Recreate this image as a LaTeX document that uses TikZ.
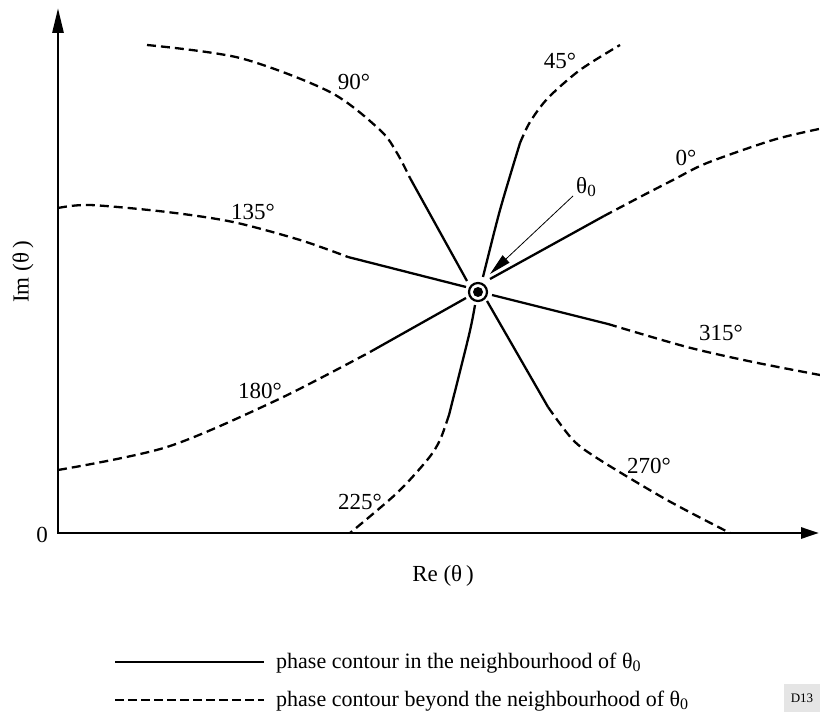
\documentclass[tikz,border=0pt]{standalone}
\usepackage{fontspec}
\setmainfont{Liberation Serif}
\usetikzlibrary{arrows.meta}
\begin{document}
\begin{tikzpicture}[x=1pt,y=-1pt,
  axis/.style={line width=2.8pt, line join=miter},
  near/.style={line width=2.3pt},
  far/.style={line width=2.3pt, dash pattern=on 9pt off 5pt},
  lab/.style={font=\fontsize{23}{26}\selectfont, inner sep=0pt},
  legtext/.style={font=\fontsize{22}{26}\selectfont, inner sep=0pt, anchor=base west},
]
\useasboundingbox (0,0) rectangle (820,714);
% axes
\coordinate (o) at (58,533);
\coordinate (ytip) at (58,8);
\coordinate (xtip) at (819,533);
\draw[axis, {Triangle[length=25pt,width=11pt]}-{Triangle[length=18pt,width=11pt]}] (ytip) -- (o) -- (xtip);
\node[lab] (zero) at (42,535) {0};
\node[lab] (re) at (443,576) {Re (θ\,)};
\node[lab, rotate=90] (im) at (23,272) {Im (θ\,)};
% centre point
\node[circle, draw, line width=2.2pt, minimum size=18pt, inner sep=0pt] (c) at (478,292) {};
\fill (c.center) circle (5pt);
% 0 deg
\draw[near] (490,279) -- (604,216);
\draw[far] plot[smooth] coordinates {(604,216) (640,197) (673,180) (707,163) (773,140) (819,129)};
\node[lab] (l0) at (686,158) {0°};
% 45 deg
\draw[near] plot[smooth] coordinates {(483,277) (500,210) (520,143)};
\draw[far] plot[smooth] coordinates {(520,143) (530,122) (548,98) (580,70) (620,45)};
\node[lab] (l45) at (560,61) {45°};
% 90 deg
\draw[far] plot[smooth] coordinates {(147,45) (240,58) (330,92) (380,130) (397,153) (410,178)};
\draw[near] (410,178) -- (467,281);
\node[lab] (l90) at (354,82) {90°};
% 135 deg
\draw[far] plot[smooth] coordinates {(58,208) (90,205) (167,212) (233,222) (300,240) (348,257)};
\draw[near] (348,257) -- (466,287);
\node[lab] (l135) at (253,212) {135°};
% 180 deg
\draw[far] plot[smooth] coordinates {(58,470) (167,447) (277,400) (370,352)};
\draw[near] (370,352) -- (466,298);
\node[lab] (l180) at (260,391) {180°};
% 225 deg
\draw[near] plot[smooth] coordinates {(475,305) (469,335) (449,415)};
\draw[far] plot[smooth] coordinates {(449,415) (440,440) (428,459) (397,493) (350,533)};
\node[lab] (l225) at (360,502) {225°};
% 270 deg
\draw[near] (487,301) -- (548,407);
\draw[far] plot[smooth] coordinates {(548,407) (573,440) (600,460) (667,500) (730,533)};
\node[lab] (l270) at (649,466) {270°};
% 315 deg
\draw[near] (492,295) -- (608,324);
\draw[far] plot[smooth] coordinates {(608,324) (687,347) (753,362) (820,375)};
\node[lab] (l315) at (721,333) {315°};
% theta_0 pointer
\node[lab] (t0) at (586,187) {θ\raisebox{-0.35ex}{\fontsize{17}{20}\selectfont 0}};
\coordinate (a0) at (573,196);
\coordinate (a1) at (490,274);
\draw[line width=0.8pt, -{Triangle[length=22pt,width=10pt]}] (a0) -- (a1);
% legend
\coordinate (s1) at (115,662);
\coordinate (s2) at (264,662);
\coordinate (d1) at (115,700);
\coordinate (d2) at (264,700);
\draw[line width=2.8pt] (s1) -- (s2);
\draw[line width=2.8pt, dash pattern=on 9pt off 4pt] (d1) -- (d2);
\node[legtext] (t1) at (276,668) {phase contour in the neighbourhood of θ\raisebox{-0.35ex}{\fontsize{16}{20}\selectfont 0}};
\node[legtext] (t2) at (276,706) {phase contour beyond the neighbourhood of θ\raisebox{-0.35ex}{\fontsize{16}{20}\selectfont 0}};
% tag
\node[fill=black!10, minimum width=36pt, minimum height=28pt, inner sep=0pt, font=\fontsize{13}{15}\selectfont] (tag) at (802,698) {D13};
\end{tikzpicture}
\end{document}
